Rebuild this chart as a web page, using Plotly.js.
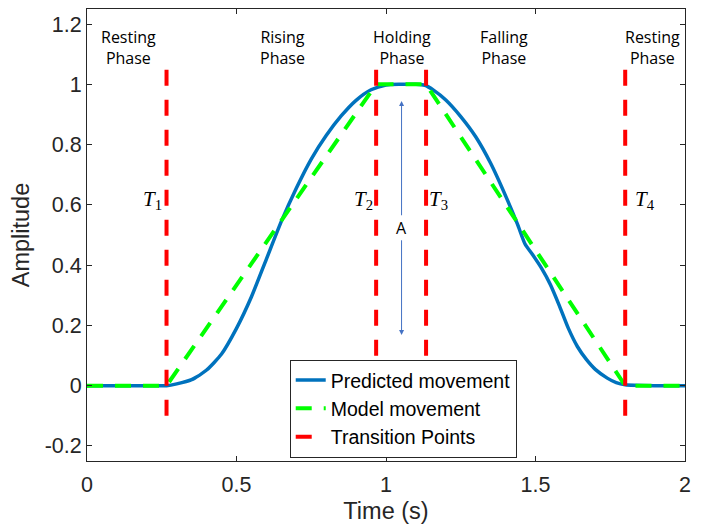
<!DOCTYPE html>
<html>
<head>
<meta charset="utf-8">
<script src="https://cdn.plot.ly/plotly-3.0.1.min.js"></script>
<style>html,body{margin:0;padding:0;background:#fff;}#chart{width:713px;height:528px;}</style>
</head>
<body>
<div id="chart"></div>
<script>
// Predicted movement (blue solid)
const predT = [0, 0.10, 0.20, 0.266, 0.30, 0.35, 0.40, 0.45, 0.50, 0.55, 0.60, 0.65, 0.70, 0.75, 0.80, 0.85, 0.90, 0.95, 1.00, 1.05, 1.10, 1.13, 1.16, 1.20, 1.25, 1.30, 1.35, 1.40, 1.44, 1.465, 1.49, 1.52, 1.55, 1.58, 1.61, 1.64, 1.67, 1.70, 1.74, 1.77, 1.80, 1.90, 2.0];
const predA = [0, 0, 0, 0, 0.006, 0.02, 0.052, 0.105, 0.19, 0.295, 0.42, 0.545, 0.655, 0.752, 0.83, 0.895, 0.947, 0.982, 0.998, 1.0, 1.0, 0.997, 0.98, 0.948, 0.893, 0.826, 0.738, 0.63, 0.535, 0.47, 0.435, 0.39, 0.335, 0.265, 0.19, 0.13, 0.087, 0.054, 0.025, 0.01, 0.003, 0, 0];
// Model movement (green dashed)
const modelT = [0, 0.266, 0.967, 1.134, 1.80, 2.0];
const modelA = [0, 0, 1, 1, 0, 0];
// Transition points (red dashed vertical lines)
const transT = [0.266, 0.967, 1.134, 1.80];
const transYRange = [-0.1, 1.06];
const transNums = ["1", "2", "3", "4"];
const transLabelX = [0.22, 0.925, 1.175, 1.866];
const transLabelY = 0.617;
// Phase labels
const phaseNames = ["Resting<br>Phase", "Rising<br>Phase", "Holding<br>Phase", "Falling<br>Phase", "Resting<br>Phase"];
const phaseX = [0.14, 0.655, 1.052, 1.395, 1.89];
const phaseY = 1.123;
// Amplitude arrow
const arrowX = 1.052;
const arrowTop = 0.945;
const arrowBottom = 0.168;
const arrowLabelY = 0.524;
// Axes
const xTicks = [0, 0.5, 1, 1.5, 2];
const xTickText = ["0", "0.5", "1", "1.5", "2"];
const yTicks = [-0.2, 0, 0.2, 0.4, 0.6, 0.8, 1, 1.2];
const yTickText = ["-0.2", "0", "0.2", "0.4", "0.6", "0.8", "1", "1.2"];

const redX = [], redY = [];
transT.forEach(t => { redX.push(t, t, null); redY.push(transYRange[0], transYRange[1], null); });

const traces = [
  {x: predT, y: predA, type: 'scatter', mode: 'lines', name: 'Predicted movement',
   line: {color: '#0072BD', width: 3.5, shape: 'spline', smoothing: 0.6}},
  {x: modelT, y: modelA, type: 'scatter', mode: 'lines', name: 'Model movement',
   line: {color: '#00FF00', width: 4, dash: '16px,12px'}},
  {x: redX, y: redY, type: 'scatter', mode: 'lines', name: 'Transition Points',
   line: {color: '#FF0000', width: 4, dash: '16px,14px'}, connectgaps: false}
];

const annotations = [];
phaseNames.forEach((p, i) => annotations.push({x: phaseX[i], y: phaseY, xref: 'x', yref: 'y', text: p, showarrow: false,
  font: {family: 'Open Sans, sans-serif', size: 16, color: '#000'}}));
transNums.forEach((n, i) => annotations.push({x: transLabelX[i], y: transLabelY, xref: 'x', yref: 'y',
  text: '<i>T</i><sub>' + n + '</sub>', showarrow: false,
  font: {family: 'Liberation Serif, serif', size: 21, color: '#000'}}));
annotations.push({x: arrowX, y: arrowTop, ax: arrowX, ay: arrowLabelY, xref: 'x', yref: 'y', axref: 'x', ayref: 'y',
  text: 'A', showarrow: true, arrowhead: 2, arrowsize: 1, arrowwidth: 1, arrowcolor: '#4472C4', standoff: 0,
  font: {family: 'Open Sans, sans-serif', size: 16, color: '#000'}});
annotations.push({x: arrowX, y: arrowBottom, ax: arrowX, ay: arrowLabelY, xref: 'x', yref: 'y', axref: 'x', ayref: 'y',
  text: 'A', showarrow: true, arrowhead: 2, arrowsize: 1, arrowwidth: 1, arrowcolor: '#4472C4', standoff: 0,
  font: {family: 'Open Sans, sans-serif', size: 16, color: 'rgba(0,0,0,0)'}});

const axisCommon = {
  showgrid: false, zeroline: false, showline: true, linecolor: '#262626', linewidth: 1,
  mirror: 'ticks', ticks: 'inside', ticklen: 5, tickcolor: '#262626', tickwidth: 1,
  tickfont: {family: 'Liberation Sans, Arial, sans-serif', size: 21.5, color: '#262626'}
};

const layout = {
  width: 713, height: 528,
  margin: {l: 87, r: 28, t: 9, b: 67},
  paper_bgcolor: '#fff', plot_bgcolor: '#fff',
  showlegend: true,
  legend: {x: 0.339, y: 0.224, xanchor: 'left', yanchor: 'top', bgcolor: '#fff', bordercolor: '#262626', borderwidth: 1,
    font: {family: 'Liberation Sans, Arial, sans-serif', size: 19.5, color: '#000'}, tracegroupgap: 0},
  xaxis: Object.assign({}, axisCommon, {range: [0, 2], tickvals: xTicks, ticktext: xTickText, ticklabelstandoff: 4,
    title: {text: 'Time (s)', font: {family: 'Liberation Sans, Arial, sans-serif', size: 23.5, color: '#262626'}, standoff: 6}}),
  yaxis: Object.assign({}, axisCommon, {range: [-0.25, 1.25], tickvals: yTicks, ticktext: yTickText,
    title: {text: 'Amplitude', font: {family: 'Liberation Sans, Arial, sans-serif', size: 23.5, color: '#262626'}, standoff: 8}}),
  annotations: annotations
};

Plotly.newPlot('chart', traces, layout, {displayModeBar: false, staticPlot: true});
</script>
</body>
</html>
